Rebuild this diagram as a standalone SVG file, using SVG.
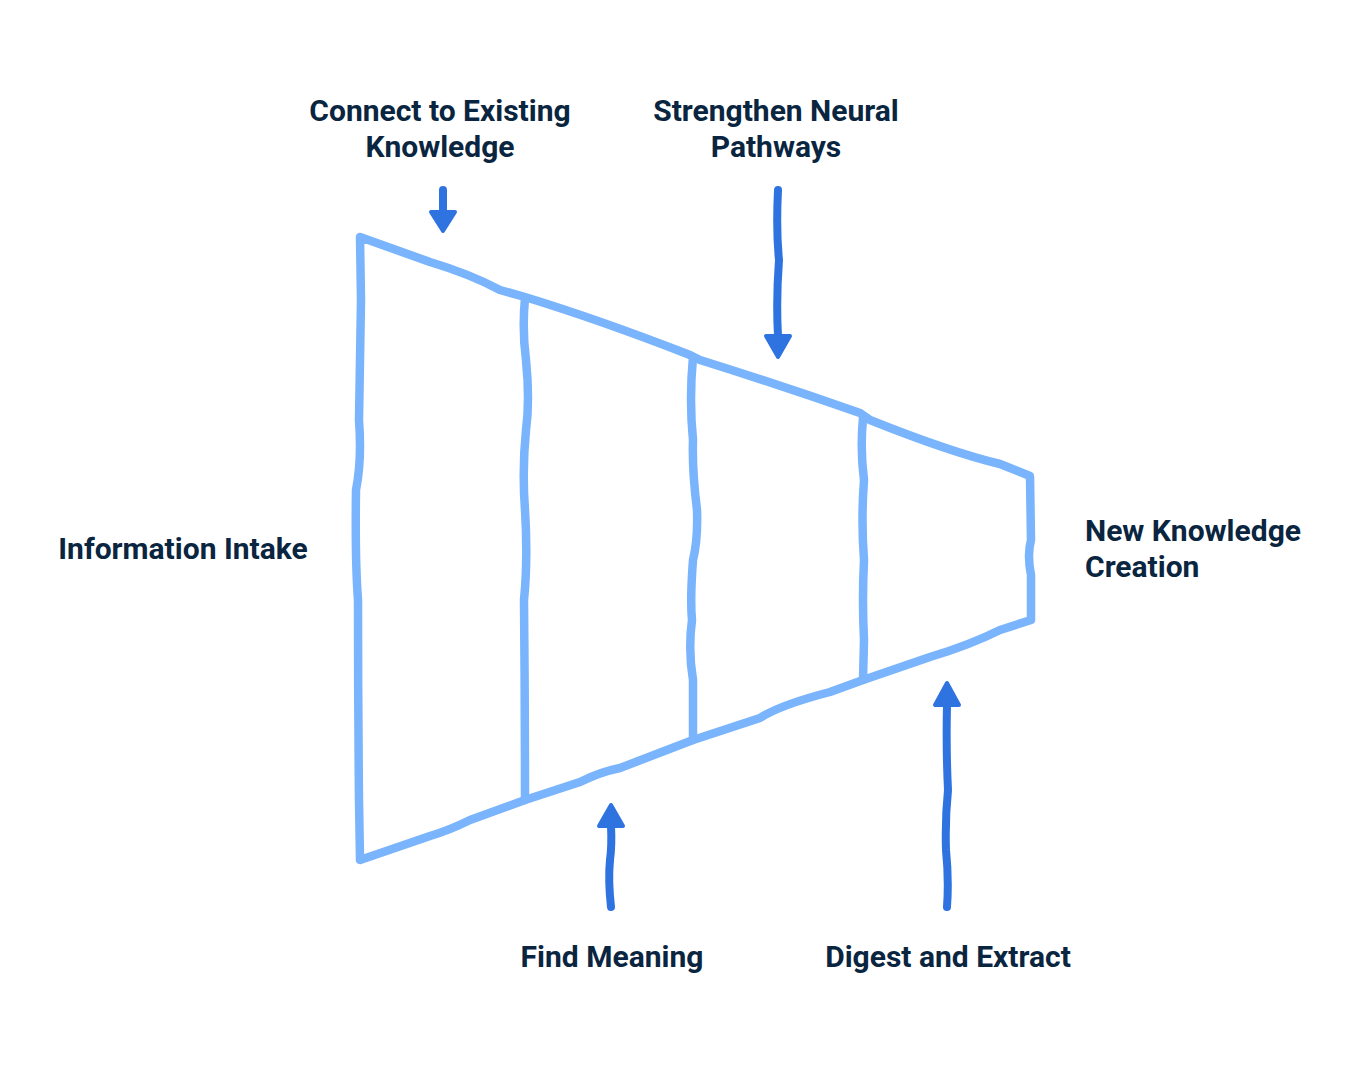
<svg xmlns="http://www.w3.org/2000/svg" width="1368" height="1077" viewBox="0 0 1368 1077">
<style>
.lbl{font-family:Roboto,"Liberation Sans",sans-serif;font-weight:700;font-size:30px;fill:#0a2540}
.f{fill:none;stroke:#7ab4fc;stroke-width:8.5;stroke-linecap:round;stroke-linejoin:round}
.a{fill:none;stroke:#2f73e0;stroke-width:8;stroke-linecap:round;stroke-linejoin:round}
.h{fill:#2f73e0;stroke:#2f73e0;stroke-width:4;stroke-linejoin:round}
</style>
<rect width="1368" height="1077" fill="#ffffff"/>
<g id="funnel">
<path class="f" d="M360,237 L430,262 Q470,274 500,290 L525,297 Q600,320 690,355 L700,360 Q780,385 860,413 L870,420 Q950,452 1000,464 L1030,476 L1031,540 Q1027,555 1031,575 L1031,620 L1000,630 Q970,645 930,657 L863,680 L830,692 Q780,705 760,718 L693,740 L620,768 Q600,772 580,782 L525,800 L470,820 Q450,830 430,836 L360,860 L359,800 Q358,700 358,600 Q355,560 356,490 Q362,460 359,420 L361,300 Z"/>
<path class="f" d="M525,298 Q522,330 526,360 Q530,400 526,430 Q522,470 525,510 Q528,560 524,600 Q525,700 525,800"/>
<path class="f" d="M693,357 Q689,400 693,440 Q692,470 697,510 Q698,540 693,560 Q690,600 692,620 Q688,650 693,680 L693,740"/>
<path class="f" d="M863,418 Q860,450 864,480 Q861,520 864,560 Q862,600 864,640 L863,680"/>
</g>
<g id="connectors">
<path class="a" d="M443,190 L443,212"/><polygon class="h" points="431,212 455,212 443,231"/>
<path class="a" d="M778,190 Q776,230 779,260 Q776,300 778,336"/><polygon class="h" points="766,336 790,336 778,357"/>
<path class="a" d="M611,907 Q608,880 610,860 Q612,845 611,826"/><polygon class="h" points="599,826 623,826 611,805"/>
<path class="a" d="M947,907 Q949,880 946,850 Q945,820 948,790 Q946,750 947,705"/><polygon class="h" points="935,705 959,705 947,683"/>
</g>
<g id="n-connect"><text class="lbl" text-anchor="middle" x="440" y="121">Connect to Existing</text><text class="lbl" text-anchor="middle" x="440" y="157">Knowledge</text></g>
<g id="n-strengthen"><text class="lbl" text-anchor="middle" x="776" y="121">Strengthen Neural</text><text class="lbl" text-anchor="middle" x="776" y="157">Pathways</text></g>
<g id="n-intake"><text class="lbl" text-anchor="middle" x="183" y="559">Information Intake</text></g>
<g id="n-new"><text class="lbl" x="1085" y="541">New Knowledge</text><text class="lbl" x="1085" y="577">Creation</text></g>
<g id="n-meaning"><text class="lbl" text-anchor="middle" x="612" y="967">Find Meaning</text></g>
<g id="n-digest"><text class="lbl" text-anchor="middle" x="948" y="967">Digest and Extract</text></g>
</svg>
